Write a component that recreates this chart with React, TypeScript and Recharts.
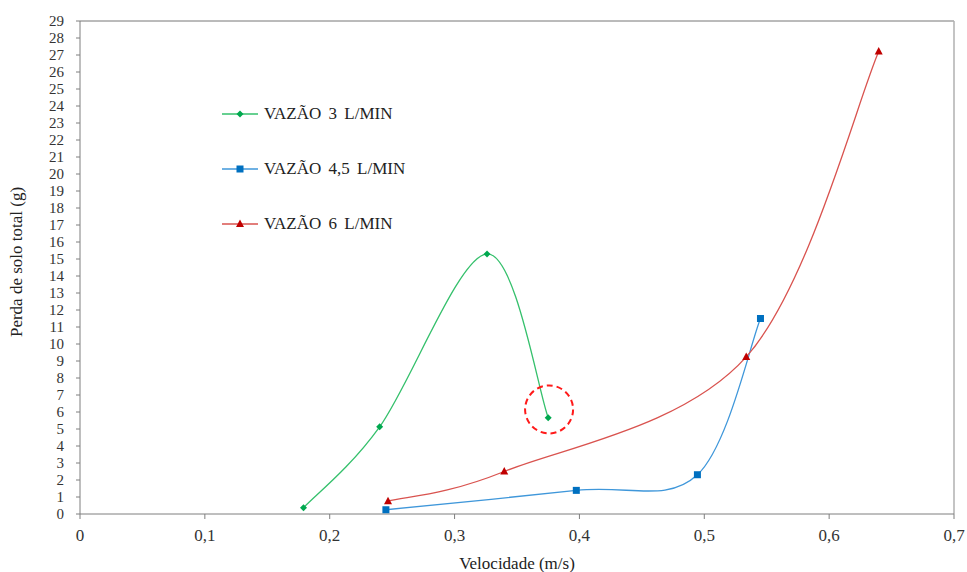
import React from "react"
import {
  LineChart,
  Line,
  XAxis,
  YAxis,
  Legend,
  ReferenceLine,
  ReferenceDot,
} from "recharts"

// velocity (m/s) and total soil loss (g) for each flow rate
const vel3 = [0.179, 0.240, 0.326, 0.375]
const loss3 = [0.37, 5.13, 15.3, 5.66]

const vel45 = [0.245, 0.3975, 0.4945, 0.545]
const loss45 = [0.25, 1.39, 2.31, 11.5]

const vel6 = [0.2467, 0.3398, 0.5336, 0.6397]
const loss6 = [0.75, 2.5, 9.24, 27.2]

const xTicks = [0, 0.1, 0.2, 0.3, 0.4, 0.5, 0.6, 0.7]
const yTicks = Array.from({ length: 30 }, (_, i) => i)

const FONT = "'Times New Roman', 'Liberation Serif', 'DejaVu Serif', serif"

const toPoints = (xs: number[], ys: number[]) => xs.map((x, i) => ({ x, y: ys[i] }))

const series = [
  { name: "VAZÃO 3 L/MIN", data: toPoints(vel3, loss3), line: "#35c06c", mark: "#00a84f", shape: "diamond" },
  { name: "VAZÃO 4,5 L/MIN", data: toPoints(vel45, loss45), line: "#3f97da", mark: "#0070c0", shape: "square" },
  { name: "VAZÃO 6 L/MIN", data: toPoints(vel6, loss6), line: "#d9534f", mark: "#c00000", shape: "triangle" },
]

// smoothed line like the spreadsheet one (bezier through the points)
function smoothCurve(context: any) {
  let pts: number[][] = []
  return {
    areaStart() {},
    areaEnd() {},
    lineStart() {
      pts = []
    },
    point(x: number, y: number) {
      pts.push([+x, +y])
    },
    lineEnd() {
      const n = pts.length
      if (!n) return
      context.moveTo(pts[0][0], pts[0][1])
      for (let i = 0; i < n - 1; i++) {
        const p0 = pts[Math.max(i - 1, 0)]
        const p1 = pts[i]
        const p2 = pts[i + 1]
        const p3 = pts[Math.min(i + 2, n - 1)]
        context.bezierCurveTo(
          p1[0] + (p2[0] - p0[0]) / 6,
          p1[1] + (p2[1] - p0[1]) / 6,
          p2[0] - (p3[0] - p1[0]) / 6,
          p2[1] - (p3[1] - p1[1]) / 6,
          p2[0],
          p2[1]
        )
      }
    },
  }
}

function Marker({ cx, cy, shape, color }: { cx: number; cy: number; shape: string; color: string }) {
  if (shape === "diamond") {
    const r = 3.5
    return <polygon points={`${cx},${cy - r} ${cx + r},${cy} ${cx},${cy + r} ${cx - r},${cy}`} fill={color} />
  }
  if (shape === "square") {
    return <rect x={cx - 3.5} y={cy - 3.5} width={7} height={7} fill={color} />
  }
  return <polygon points={`${cx},${cy - 4.5} ${cx + 4},${cy + 3} ${cx - 4},${cy + 3}`} fill={color} />
}

function LegendBox() {
  return (
    <div style={{ fontFamily: FONT, fontSize: 17, color: "#222" }}>
      {series.map((s) => (
        <div key={s.name} style={{ display: "flex", alignItems: "center", height: 55 }}>
          <svg width={40} height={12} style={{ marginRight: 4 }}>
            <line x1={2} y1={6} x2={38} y2={6} stroke={s.line} strokeWidth={1.3} />
            <Marker cx={20} cy={6} shape={s.shape} color={s.mark} />
          </svg>
          <span style={{ wordSpacing: 3 }}>{s.name}</span>
        </div>
      ))}
    </div>
  )
}

function YLabel() {
  return (
    <text
      x={22}
      y={262}
      transform="rotate(-90, 22, 262)"
      textAnchor="middle"
      style={{ fontFamily: FONT }}
      fontSize={17}
      fill="#222"
    >
      Perda de solo total (g)
    </text>
  )
}

const fmt = (v: number) => String(v).replace(".", ",")

const tickStyle = { fill: "#333", fontSize: 15, style: { fontFamily: FONT } }

export default function App() {
  return (
    <div style={{ position: "absolute", left: 0, top: 0, background: "#fff", fontFamily: FONT }}>
      <LineChart width={967} height={572} margin={{ top: 21, right: 13, bottom: 0, left: 0 }} style={{ fontFamily: FONT }}>
        <XAxis
          dataKey="x"
          type="number"
          domain={[0, 0.7]}
          ticks={xTicks}
          tickFormatter={fmt}
          height={58}
          stroke="#7f7f7f"
          tickSize={5}
          tickMargin={10}
          tick={{ ...tickStyle, fontSize: 17 }}
          label={{ value: "Velocidade (m/s)", position: "insideBottom", offset: 3, fill: "#222", fontSize: 17, style: { fontFamily: FONT } }}
        />
        <YAxis
          type="number"
          domain={[0, 29]}
          ticks={yTicks}
          interval={0}
          width={80}
          stroke="#7f7f7f"
          tickSize={4}
          tickMargin={12}
          tick={tickStyle}
          label={<YLabel />}
        />
        <ReferenceLine y={29} stroke="#777" />
        <ReferenceLine x={0.7} stroke="#b0b0b0" strokeWidth={1.5} />
        {series.map((s) => (
          <Line
            key={s.name}
            data={s.data}
            dataKey="y"
            name={s.name}
            type={smoothCurve as any}
            stroke={s.line}
            strokeWidth={1.3}
            isAnimationActive={false}
            dot={(p: any) => <Marker key={`${s.name}-${p.index}`} cx={p.cx} cy={p.cy} shape={s.shape} color={s.mark} />}
            activeDot={false}
          />
        ))}
        <ReferenceDot
          x={0.3757}
          y={6.15}
          r={24}
          fill="none"
          stroke="#ff1a1a"
          strokeWidth={2}
          strokeDasharray="6 4"
        />
        <Legend
          layout="horizontal"
          verticalAlign="middle"
          content={<LegendBox />}
          wrapperStyle={{ position: "absolute", left: 220, top: 86, width: 260 }}
        />
      </LineChart>
    </div>
  )
}
